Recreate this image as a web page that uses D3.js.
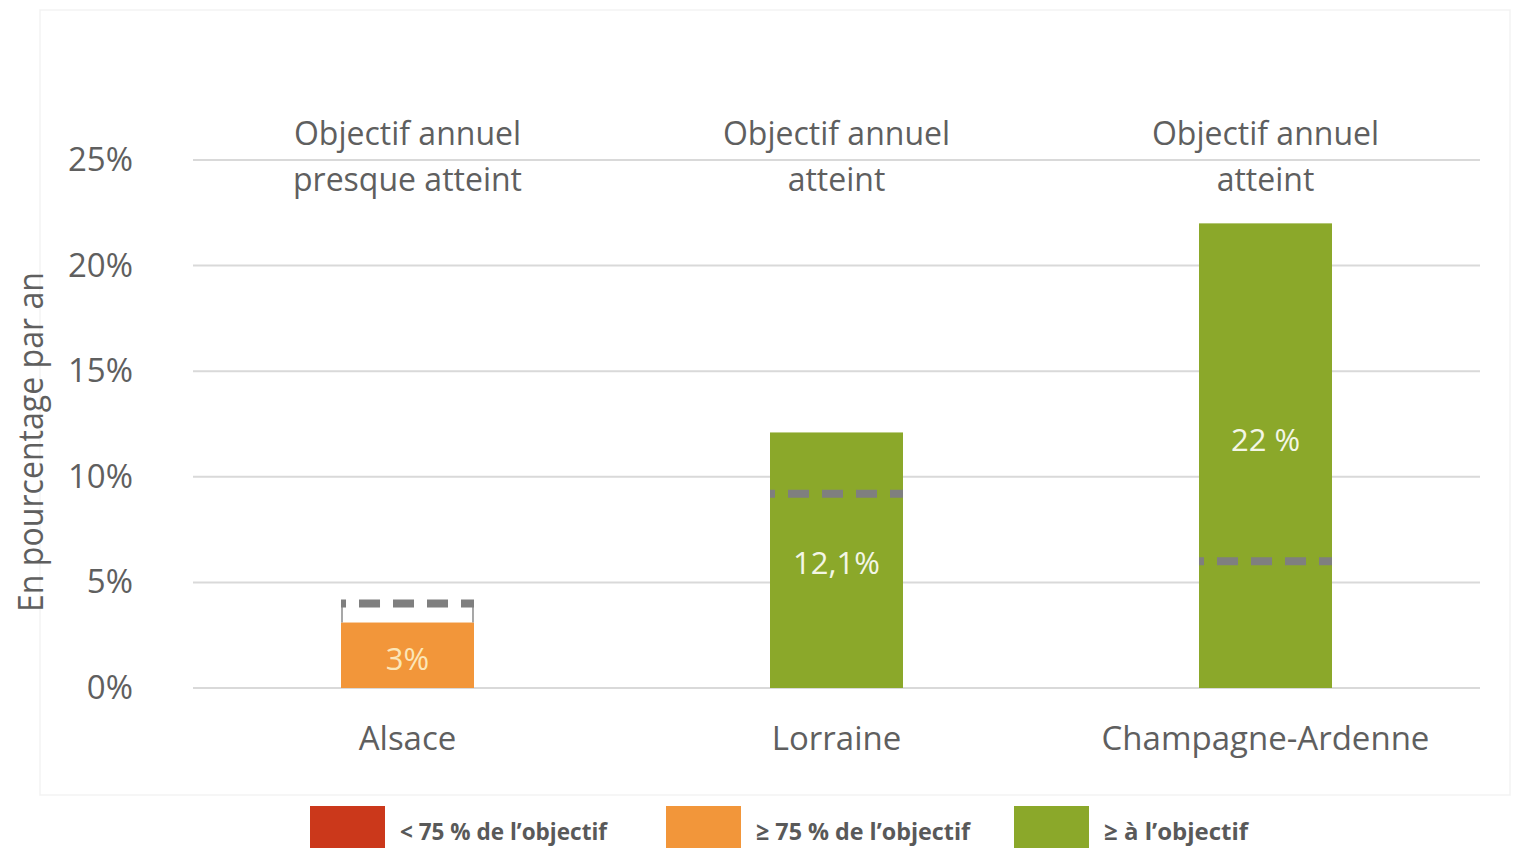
<!DOCTYPE html>
<html>
<head>
<meta charset="utf-8">
<script src="https://cdn.jsdelivr.net/npm/d3@7"></script>
<style>
  body { margin: 0; background: #fff; }
  #chart { width: 1516px; height: 848px; }
</style>
</head>
<body>
<div id="chart"></div>
<script>
// data
const regions = ["Alsace", "Lorraine", "Champagne-Ardenne"];
const values = [3.1, 12.1, 22];
const targets = [4.0, 9.2, 6.0];
const valueLabels = ["3%", "12,1%", "22 %"];
const labelAt = [1.35, 5.9, 11.75];   // where the value label sits, in %
const statusLines = [["Objectif annuel", "presque atteint"], ["Objectif annuel", "atteint"], ["Objectif annuel", "atteint"]];
const statusClass = ["mid", "ok", "ok"];
const yTicks = [0, 5, 10, 15, 20, 25];
const legendKeys = ["low", "mid", "ok"];
const legendLabels = ["< 75 % de l\u2019objectif", "\u2265 75 % de l\u2019objectif", "\u2265  \u00e0 l\u2019objectif"];

const colors = {low: "#CB381B", mid: "#F2963A", ok: "#8BA82A"};
const labelColors = {mid: "#FCE6B8", ok: "#F3F6E6"};
const textColor = "#5f5f5f";

const margin = {top: 160, right: 36, left: 193};
const W = 1516, H = 848;
const width = W - margin.left - margin.right;
const height = 688 - margin.top;

const svg = d3.select("#chart").append("svg")
    .attr("width", W)
    .attr("height", H);

// faint panel frame
svg.append("rect")
    .attr("x", 40).attr("y", 10)
    .attr("width", 1470).attr("height", 785)
    .attr("fill", "none")
    .attr("stroke", "#f3f3f3")
    .attr("stroke-width", 1.5);

const g = svg.append("g")
    .attr("transform", "translate(" + margin.left + "," + margin.top + ")");

const x = d3.scaleBand()
    .domain(regions)
    .range([0, width])
    .paddingInner(0.69)
    .paddingOuter(0.345);

const y = d3.scaleLinear()
    .domain([0, 25])
    .range([height, 0]);

// gridlines
g.append("g")
    .selectAll("line")
    .data(yTicks)
    .join("line")
    .attr("x1", 0).attr("x2", width)
    .attr("y1", d => y(d)).attr("y2", d => y(d))
    .attr("stroke", "#d9d9d9")
    .attr("stroke-width", 2);

// y axis labels
const yAxis = d3.axisLeft(y).tickValues(yTicks).tickFormat(d => d + "%").tickSize(0).tickPadding(60);
const ya = g.append("g").call(yAxis);
ya.select(".domain").remove();
ya.selectAll("text")
    .attr("font-family", "Open Sans")
    .attr("font-size", 33)
    .attr("fill", textColor);

// bars
g.selectAll(".bar")
    .data(regions)
    .join("rect")
    .attr("class", "bar")
    .attr("x", d => x(d))
    .attr("y", (d, i) => y(values[i]))
    .attr("width", x.bandwidth())
    .attr("height", (d, i) => y(0) - y(values[i]))
    .attr("fill", (d, i) => colors[statusClass[i]]);

// gap outline where bar is below target
regions.forEach((r, i) => {
    if (values[i] < targets[i]) {
        [x(r) + 1, x(r) + x.bandwidth() - 1].forEach(px => {
            g.append("line")
                .attr("x1", px).attr("x2", px)
                .attr("y1", y(targets[i])).attr("y2", y(values[i]))
                .attr("stroke", "#8a8a8a")
                .attr("stroke-width", 1.5);
        });
    }
});

// target dashes
g.selectAll(".target")
    .data(regions)
    .join("line")
    .attr("class", "target")
    .attr("x1", d => x(d))
    .attr("x2", d => x(d) + x.bandwidth())
    .attr("y1", (d, i) => y(targets[i]))
    .attr("y2", (d, i) => y(targets[i]))
    .attr("stroke", "#7f7f7f")
    .attr("stroke-width", 8)
    .attr("stroke-dasharray", "21,13")
    .attr("stroke-dashoffset", 16);

// value labels
g.selectAll(".vlabel")
    .data(regions)
    .join("text")
    .attr("class", "vlabel")
    .attr("x", d => x(d) + x.bandwidth() / 2)
    .attr("y", (d, i) => y(labelAt[i]))
    .attr("dy", "0.35em")
    .attr("text-anchor", "middle")
    .attr("font-family", "Open Sans")
    .attr("font-size", 31)
    .attr("fill", (d, i) => labelColors[statusClass[i]])
    .text((d, i) => valueLabels[i]);

// category labels
g.selectAll(".cat")
    .data(regions)
    .join("text")
    .attr("class", "cat")
    .attr("x", d => x(d) + x.bandwidth() / 2)
    .attr("y", height + 50)
    .attr("dy", "0.35em")
    .attr("text-anchor", "middle")
    .attr("font-family", "Open Sans")
    .attr("font-size", 33)
    .attr("fill", textColor)
    .text(d => d);

// status lines above
regions.forEach((r, i) => {
    statusLines[i].forEach((t, k) => {
        g.append("text")
            .attr("x", x(r) + x.bandwidth() / 2)
            .attr("y", -26 + k * 46)
            .attr("dy", "0.35em")
            .attr("text-anchor", "middle")
            .attr("font-family", "Open Sans")
            .attr("font-size", 32)
            .attr("fill", textColor)
            .text(t);
    });
});

// y title (condensed look)
svg.append("text")
    .attr("transform", "translate(31,442) rotate(-90)")
    .attr("dy", "0.35em")
    .attr("text-anchor", "middle")
    .attr("font-family", "Open Sans")
    .attr("font-size", 34)
    .attr("textLength", 340)
    .attr("lengthAdjust", "spacingAndGlyphs")
    .attr("fill", textColor)
    .text("En pourcentage par an");

// legend
const legendX = [310, 666, 1014];
const legendW = [207, 214, 144];
const lg = svg.append("g");
legendKeys.forEach((k, i) => {
    lg.append("rect")
        .attr("x", legendX[i]).attr("y", 806)
        .attr("width", 75).attr("height", 45)
        .attr("fill", colors[k]);
    lg.append("text")
        .attr("x", legendX[i] + 90)
        .attr("y", 832)
        .attr("dy", "0.35em")
        .attr("font-family", "Open Sans")
        .attr("font-weight", "bold")
        .attr("font-size", 24)
        .attr("textLength", legendW[i])
        .attr("lengthAdjust", "spacingAndGlyphs")
        .attr("fill", "#595959")
        .text(legendLabels[i]);
});
</script>
</body>
</html>
